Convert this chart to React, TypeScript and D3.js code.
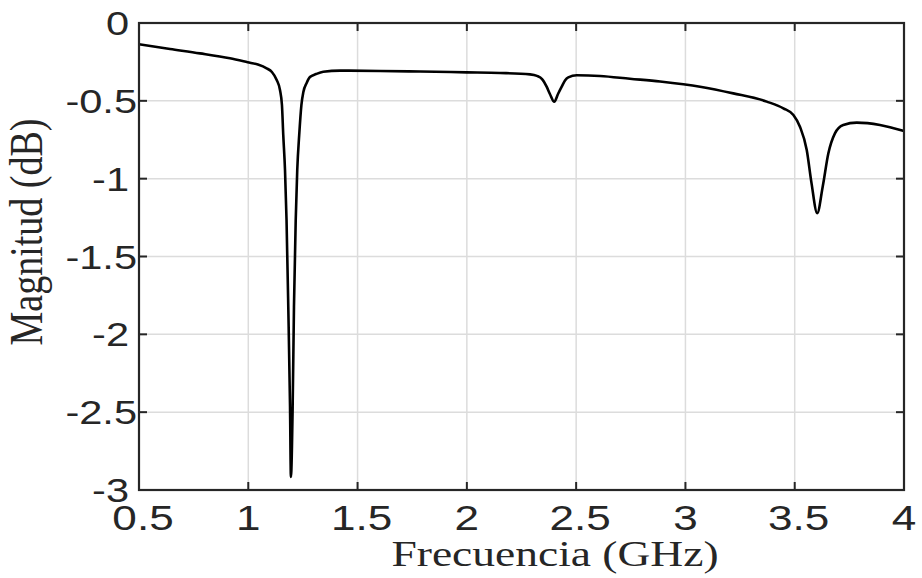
import React from "react";
import * as d3 from "d3";

const freqGHz = [
  0.5, 0.642, 0.779, 0.916, 0.997, 1.044, 1.084, 1.108, 1.13, 1.145, 1.154, 1.16, 1.168, 1.175, 1.183, 1.191, 1.195,
  1.203, 1.209, 1.217, 1.224, 1.233, 1.243, 1.252, 1.267, 1.282, 1.31, 1.343, 1.42, 1.603, 1.786, 2.0, 2.152, 2.289,
  2.321, 2.344, 2.365, 2.38, 2.4, 2.417, 2.434, 2.449, 2.464, 2.503, 2.609, 2.746, 2.884, 3.067, 3.219, 3.372, 3.448,
  3.494, 3.524, 3.555, 3.577, 3.603, 3.628, 3.654, 3.684, 3.722, 3.784, 3.89, 4.0,
];
const magnitudeDb = [
  -0.137, -0.167, -0.195, -0.227, -0.252, -0.267, -0.291, -0.315, -0.366, -0.43, -0.527, -0.719, -0.944, -1.266, -1.824,
  -2.467, -2.916, -2.467, -1.824, -1.266, -0.944, -0.719, -0.527, -0.443, -0.385, -0.347, -0.328, -0.313, -0.306, -0.308,
  -0.312, -0.317, -0.321, -0.33, -0.34, -0.36, -0.409, -0.456, -0.506, -0.456, -0.409, -0.369, -0.349, -0.336, -0.34,
  -0.358, -0.376, -0.409, -0.452, -0.505, -0.548, -0.591, -0.666, -0.816, -1.03, -1.222, -1.052, -0.837, -0.709, -0.655,
  -0.64, -0.655, -0.694,
];
const xTicks = [0.5, 1, 1.5, 2, 2.5, 3, 3.5, 4];
const xTickLabels = ["0.5", "1", "1.5", "2", "2.5", "3", "3.5", "4"];
const yTicks = [0, -0.5, -1, -1.5, -2, -2.5, -3];
const yTickLabels = ["0", "-0.5", "-1", "-1.5", "-2", "-2.5", "-3"];
const xTitle = "Frecuencia (GHz)";
const yTitle = "Magnitud (dB)";

const W = 922;
const H = 578;
const M = { left: 139, top: 23, right: 18, bottom: 88 };
const SX = 1.26;

export default function App() {
  const x = d3.scaleLinear().domain([0.5, 4]).range([M.left, W - M.right]);
  const y = d3.scaleLinear().domain([-3, 0]).range([H - M.bottom, M.top]);
  const pts = freqGHz.map((f, i) => [f, magnitudeDb[i]] as [number, number]);
  const line = d3
    .line<[number, number]>()
    .x((d) => x(d[0]))
    .y((d) => y(d[1]))
    .curve(d3.curveMonotoneX);
  const x0 = M.left;
  const x1 = W - M.right;
  const y0 = M.top;
  const y1 = H - M.bottom;
  const tickLen = 8;
  const axisColor = "#262626";
  const sans = "'Liberation Sans', Arial, Helvetica, sans-serif";
  const serif = "'Liberation Serif', 'Times New Roman', serif";

  return (
    <svg width={W} height={H} style={{ position: "absolute", left: 0, top: 0, background: "#fff" }}>
      <rect x={0} y={0} width={W} height={H} fill="#fff" />
      {/* grid */}
      <g stroke="#dcdcdc" strokeWidth={1.5}>
        {xTicks.map((t) => (
          <line key={"gx" + t} x1={x(t)} x2={x(t)} y1={y0} y2={y1} />
        ))}
        {yTicks.map((t) => (
          <line key={"gy" + t} x1={x0} x2={x1} y1={y(t)} y2={y(t)} />
        ))}
      </g>
      {/* curve */}
      <path d={line(pts) || ""} fill="none" stroke="#000" strokeWidth={2.6} strokeLinejoin="round" />
      {/* ticks */}
      <g stroke={axisColor} strokeWidth={2}>
        {xTicks.map((t) => (
          <g key={"tx" + t}>
            <line x1={x(t)} x2={x(t)} y1={y1} y2={y1 - tickLen} />
            <line x1={x(t)} x2={x(t)} y1={y0} y2={y0 + tickLen} />
          </g>
        ))}
        {yTicks.map((t) => (
          <g key={"ty" + t}>
            <line x1={x0} x2={x0 + tickLen} y1={y(t)} y2={y(t)} />
            <line x1={x1} x2={x1 - tickLen} y1={y(t)} y2={y(t)} />
          </g>
        ))}
      </g>
      {/* box */}
      <rect x={x0} y={y0} width={x1 - x0} height={y1 - y0} fill="none" stroke={axisColor} strokeWidth={2.2} />
      {/* x tick labels */}
      {xTicks.map((t, i) => {
        const lab = xTickLabels[i];
        const off = lab.includes(".") ? 4 : 0;
        return (
          <g key={"lx" + t} transform={`translate(${x(t) + off},${y1 + 40}) scale(${SX},1)`}>
            <text textAnchor="middle" fontFamily={sans} fontSize={35} fill={axisColor}>
              {lab}
            </text>
          </g>
        );
      })}
      {/* y tick labels */}
      {yTicks.map((t, i) => {
        const lab = yTickLabels[i];
        const right = lab.includes(".") ? 137 : 129;
        return (
          <g key={"ly" + t} transform={`translate(${right},${y(t) + 12}) scale(${SX},1)`}>
            <text textAnchor="end" fontFamily={sans} fontSize={33} fill={axisColor}>
              {lab}
            </text>
          </g>
        );
      })}
      {/* titles */}
      <g transform={`translate(555,566) scale(1.3,1)`}>
        <text textAnchor="middle" fontFamily={serif} fontSize={35} fill="#262626">
          {xTitle}
        </text>
      </g>
      <g transform={`translate(42,232) scale(1.2,1) rotate(-90)`}>
        <text textAnchor="middle" fontFamily={serif} fontSize={38} fill="#262626">
          {yTitle}
        </text>
      </g>
    </svg>
  );
}
